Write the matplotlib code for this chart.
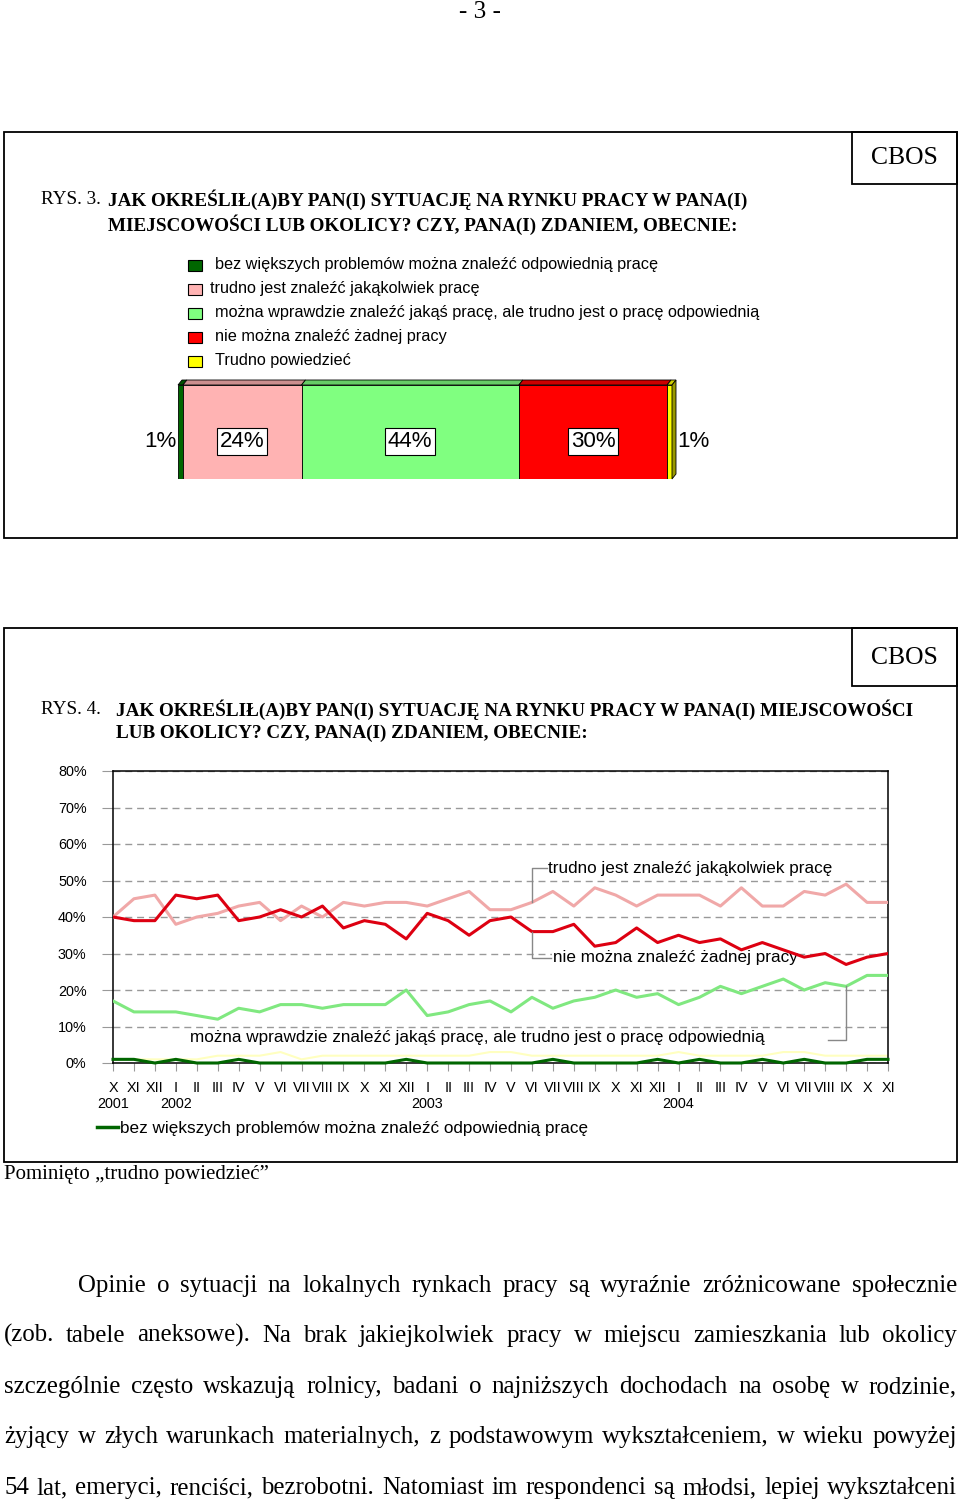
import matplotlib
matplotlib.use("Agg")
import matplotlib.pyplot as plt
from matplotlib.patches import Rectangle, Polygon
from matplotlib.colors import to_rgb
import matplotlib.transforms as mtrans

SERIF = "Liberation Serif"
SANS = "Liberation Sans"

# ---- RYS. 3 data ----
bar_labels = ["bez większych problemów można znaleźć odpowiednią pracę",
              "trudno jest znaleźć jakąkolwiek pracę",
              "można wprawdzie znaleźć jakąś pracę, ale trudno jest o pracę odpowiednią",
              "nie można znaleźć żadnej pracy",
              "Trudno powiedzieć"]
bar_values = [1, 24, 44, 30, 1]
bar_colors = ["#006600", "#FFB3B3", "#80FF80", "#FF0000", "#FFFF00"]

# ---- RYS. 4 data ----
months = ["X", "XI", "XII",
          "I", "II", "III", "IV", "V", "VI", "VII", "VIII", "IX", "X", "XI", "XII",
          "I", "II", "III", "IV", "V", "VI", "VII", "VIII", "IX", "X", "XI", "XII",
          "I", "II", "III", "IV", "V", "VI", "VII", "VIII", "IX", "X", "XI"]
year_labels = ["2001", "2002", "2003", "2004"]
year_start = [0, 3, 15, 27]

trudno_jakakolwiek = [40, 45, 46, 38, 40, 41, 43, 44, 39, 43, 40, 44, 43, 44, 44, 43, 45, 47, 42,
                      42, 44, 47, 43, 48, 46, 43, 46, 46, 46, 43, 48, 43, 43, 47, 46, 49, 44, 44]
nie_mozna = [40, 39, 39, 46, 45, 46, 39, 40, 42, 40, 43, 37, 39, 38, 34, 41, 39, 35, 39,
             40, 36, 36, 38, 32, 33, 37, 33, 35, 33, 34, 31, 33, 31, 29, 30, 27, 29, 30]
mozna_wprawdzie = [17, 14, 14, 14, 13, 12, 15, 14, 16, 16, 15, 16, 16, 16, 20, 13, 14, 16, 17,
                   14, 18, 15, 17, 18, 20, 18, 19, 16, 18, 21, 19, 21, 23, 20, 22, 21, 24, 24]
bez_problemow = [1, 1, 0, 1, 0, 0, 1, 0, 0, 0, 0, 0, 0, 0, 1, 0, 0, 0, 0,
                 0, 0, 1, 0, 0, 0, 0, 1, 0, 1, 0, 0, 1, 0, 1, 0, 0, 1, 1]
trudno_powiedziec = [1, 1, 1, 1, 1, 2, 2, 2, 3, 1, 2, 2, 2, 2, 2, 2, 2, 2, 3,
                     3, 2, 2, 2, 2, 2, 2, 2, 3, 2, 2, 2, 2, 3, 3, 2, 2, 2, 2]

body_lines = [
    "Opinie o sytuacji na lokalnych rynkach pracy są wyraźnie zróżnicowane społecznie",
    "(zob. tabele aneksowe). Na brak jakiejkolwiek pracy w miejscu zamieszkania lub okolicy",
    "szczególnie często wskazują rolnicy, badani o najniższych dochodach na osobę w rodzinie,",
    "żyjący w złych warunkach materialnych, z podstawowym wykształceniem, w wieku powyżej",
    "54 lat, emeryci, renciści, bezrobotni. Natomiast im respondenci są młodsi, lepiej wykształceni",
]

fig = plt.figure(figsize=(9.6, 15.01), dpi=100)
page = fig.add_axes([0, 0, 1, 1])
page.set_xlim(0, 960)
page.set_ylim(1501, 0)
page.axis("off")
rend = fig.canvas.get_renderer()


def text_width(s, size, **kw):
    t = page.text(0, 0, s, fontsize=size, **kw)
    w = t.get_window_extent(rend).width
    t.remove()
    return w


def fit_size(s, width, **kw):
    return 10 * width / text_width(s, 10, **kw)


def box(x, y, w, h):
    page.add_patch(Rectangle((x, y), w, h, fill=False, ec="black", lw=1.3))


# page number
page.text(480, 12, "- 3 -", family=SERIF, fontsize=fit_size("- 3 -", 42, family=SERIF),
          ha="center", va="center")

# frames
box(4, 132, 953, 406)
box(852, 132, 105, 52)
box(4, 628, 953, 534)
box(852, 628, 105, 58)
cbos_size = fit_size("CBOS", 67, family=SERIF)
page.text(904, 158, "CBOS", family=SERIF, fontsize=cbos_size, ha="center", va="center")
page.text(904, 658, "CBOS", family=SERIF, fontsize=cbos_size, ha="center", va="center")

# titles
t3 = ["JAK OKREŚLIŁ(A)BY PAN(I) SYTUACJĘ NA RYNKU PRACY W PANA(I)",
      "MIEJSCOWOŚCI LUB OKOLICY? CZY, PANA(I) ZDANIEM, OBECNIE:"]
ts = fit_size(t3[0], 640, family=SERIF, weight="bold")
page.text(41, 200, "RYS. 3.", family=SERIF, fontsize=ts, va="center")
page.text(108, 200, t3[0], family=SERIF, weight="bold", fontsize=ts, va="center")
page.text(108, 225, t3[1], family=SERIF, weight="bold", fontsize=ts, va="center")

t4 = ["JAK OKREŚLIŁ(A)BY PAN(I) SYTUACJĘ NA RYNKU PRACY W PANA(I) MIEJSCOWOŚCI",
      "LUB OKOLICY? CZY, PANA(I) ZDANIEM, OBECNIE:"]
ts4 = fit_size(t4[0], 796, family=SERIF, weight="bold")
page.text(41, 710, "RYS. 4.", family=SERIF, fontsize=ts4, va="center")
page.text(116, 710, t4[0], family=SERIF, weight="bold", fontsize=ts4, va="center")
page.text(116, 733, t4[1], family=SERIF, weight="bold", fontsize=ts4, va="center")

# RYS. 3 legend
leg_size = fit_size(bar_labels[0], 443, family=SANS)
leg_x = [215, 210, 215, 215, 215]
for i, (lab, col) in enumerate(zip(bar_labels, bar_colors)):
    y = 265 + 24 * i
    page.add_patch(Rectangle((188, y - 5.5), 14, 11, fc=col, ec="black", lw=0.8))
    page.text(leg_x[i], y, lab, family=SANS, fontsize=leg_size, va="center")

# RYS. 3 stacked 3D bar
bax = fig.add_axes([178 / 960, 1 - 479 / 1501, 494 / 960, 94 / 1501])
bax.set_xlim(0, 100)
bax.set_ylim(0, 1)
bax.axis("off")
dx = 4 / 494 * 100
dy = 5 / 94
left = 0
lab_size = fit_size("30%", 45, family=SANS)
for i, (v, col) in enumerate(zip(bar_values, bar_colors)):
    bax.barh(0.5, v, left=left, height=1, color=col, edgecolor="black", lw=0.6)
    dark = tuple(c * 0.8 for c in to_rgb(col))
    bax.add_patch(Polygon([(left, 1), (left + dx, 1 + dy), (left + v + dx, 1 + dy), (left + v, 1)],
                          closed=True, fc=dark, ec="black", lw=0.6, clip_on=False))
    if i == len(bar_values) - 1:
        side = tuple(c * 0.6 for c in to_rgb(col))
        bax.add_patch(Polygon([(left + v, 0), (left + v + dx, dy), (left + v + dx, 1 + dy), (left + v, 1)],
                              closed=True, fc=side, ec="black", lw=0.6, clip_on=False))
    if v >= 5:
        bax.text(left + v / 2, 0.4, f"{v}%", family=SANS, fontsize=lab_size, ha="center", va="center",
                 bbox=dict(boxstyle="square,pad=0.12", fc="white", ec="black", lw=0.8))
    elif i == 0:
        bax.text(left - 0.4, 0.4, f"{v}%", family=SANS, fontsize=lab_size, ha="right", va="center")
    else:
        bax.text(left + v + dx + 0.2, 0.4, f"{v}%", family=SANS, fontsize=lab_size, ha="left", va="center")
    left += v

# RYS. 4 line chart
ax = fig.add_axes([113 / 960, 1 - 1063 / 1501, 775 / 960, 292 / 1501])
x = list(range(len(months)))
ax.set_xlim(0, len(months) - 1)
ax.set_ylim(0, 80)
ax.set_yticks(range(0, 81, 10))
ax.set_yticklabels([f"{v}%" for v in range(0, 81, 10)])
ax.set_xticks(x)
ax.set_xticklabels(months)
tick_size = fit_size("80%", 29, family=SANS)
ax.tick_params(axis="y", length=8, color="#999999", pad=11, labelsize=tick_size)
ax.tick_params(axis="x", length=6, color="#999999", pad=7, labelsize=tick_size)
for lab in ax.get_xticklabels() + ax.get_yticklabels():
    lab.set_family(SANS)
for sp in ax.spines.values():
    sp.set_linewidth(1.1)
ax.grid(axis="y", color="#999999", lw=1.0, linestyle=(0, (5, 3.5)))
ax.set_axisbelow(True)

ax.plot(x, trudno_powiedziec, color="#FFFFC0", lw=1.5, zorder=2)
ax.plot(x, bez_problemow, color="#006600", lw=2.2, zorder=3, clip_on=False)
ax.plot(x, mozna_wprawdzie, color="#80E880", lw=2.2, zorder=4)
ax.plot(x, trudno_jakakolwiek, color="#F0A8A8", lw=2.2, zorder=5)
ax.plot(x, nie_mozna, color="#DD0011", lw=2.2, zorder=6)

ytr = mtrans.blended_transform_factory(ax.transData, ax.transAxes)
for lab, i0 in zip(year_labels, year_start):
    ax.text(i0, -0.14, lab, transform=ytr, family=SANS, fontsize=tick_size, ha="center", va="center")

ann_size = fit_size(bar_labels[1], 283, family=SANS)
lead = dict(color="#888888", lw=1.0, zorder=7, clip_on=False)
# trudno jest ...
ax.plot([20, 20, 20.7], [trudno_jakakolwiek[20], 53.4, 53.4], **lead)
ax.text(20.77, 53.4, bar_labels[1], family=SANS, fontsize=ann_size, va="center")
# nie można ...
ax.plot([20, 20, 20.9], [nie_mozna[20], 28.8, 28.8], **lead)
ax.text(21.0, 28.8, bar_labels[3], family=SANS, fontsize=ann_size, va="center",
        bbox=dict(fc="white", ec="none", pad=0.5))
# można wprawdzie ...
ax.plot([35, 35, 34.14], [mozna_wprawdzie[35], 6.3, 6.3], **lead)
ax.text(3.67, 7.1, bar_labels[2], family=SANS, fontsize=ann_size, va="center")

# bottom key for the dark green series
page.plot([97, 118], [1127, 1127], color="#006600", lw=2.5)
page.text(120, 1129, bar_labels[0], family=SANS, fontsize=fit_size(bar_labels[0], 466, family=SANS),
          va="center")

page.text(4, 1175, "Pominięto \u201etrudno powiedzieć\u201d", family=SERIF,
          fontsize=fit_size("Pominięto \u201etrudno powiedzieć\u201d", 264, family=SERIF), va="center")

# body text, justified
starts = [78, 4, 4, 4, 4]
baselines = [1292, 1342, 1393, 1443, 1494]
right = 957
body_size = 10 * min((right - s) / text_width(l, 10, family=SERIF) for s, l in zip(starts, body_lines)) * 0.98
for line, x0, yb in zip(body_lines, starts, baselines):
    words = line.split()
    widths = [text_width(w, body_size, family=SERIF) for w in words]
    gap = (right - x0 - sum(widths)) / (len(words) - 1)
    xx = x0
    for w, wd in zip(words, widths):
        page.text(xx, yb, w, family=SERIF, fontsize=body_size, ha="left", va="baseline")
        xx += wd + gap

fig.savefig("out.png", dpi=100)
